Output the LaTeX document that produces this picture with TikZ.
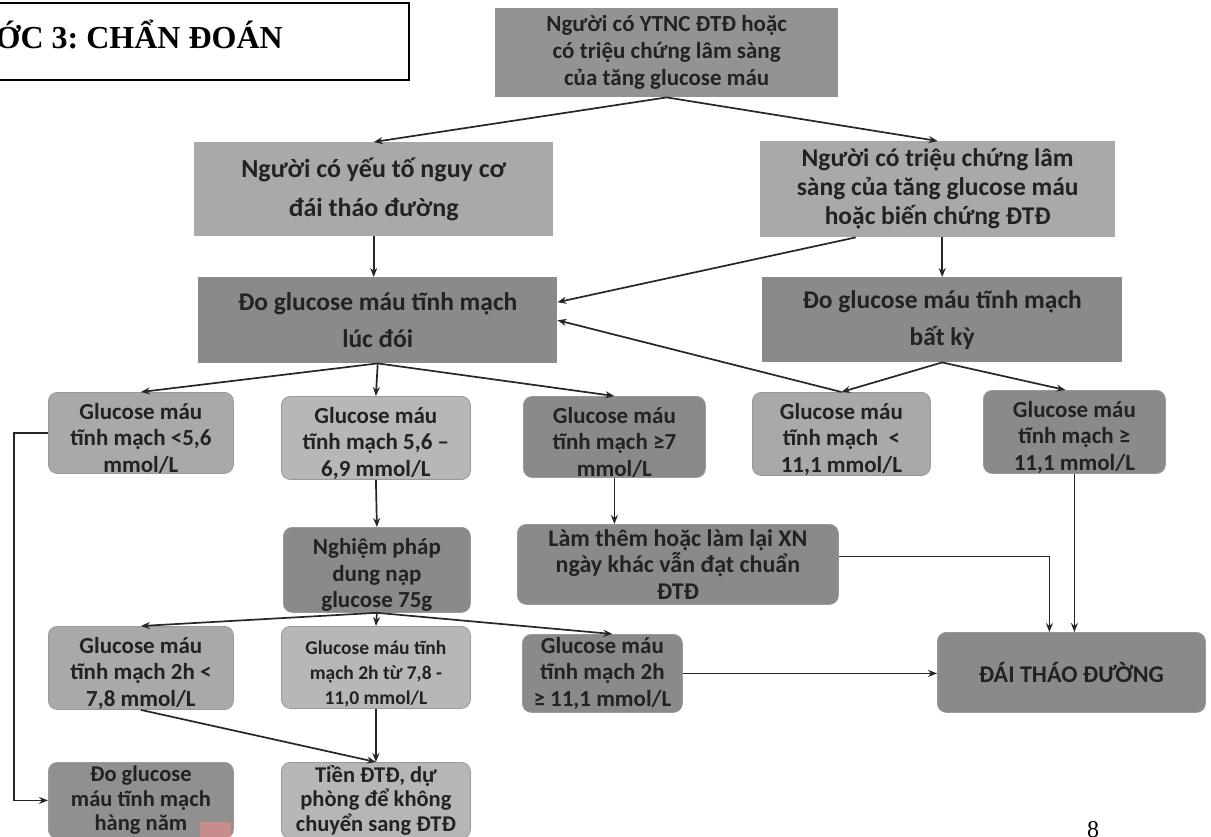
\documentclass[tikz,border=0pt]{standalone}
\usepackage{fontspec}
\setmainfont{Carlito}
\newfontfamily\titlefont{Liberation Serif}
\usetikzlibrary{arrows.meta}
\definecolor{gDark}{HTML}{8A8A8A}
\definecolor{gTop}{HTML}{939393}
\definecolor{gMid}{HTML}{A9A9A9}
\definecolor{gLight}{HTML}{B7B7B7}
\definecolor{gInk}{HTML}{222222}
% a strut that lowers the first line of a box a little
\newcommand\dropline{\rule{0pt}{27pt}}
\begin{document}
\frenchspacing
\begin{tikzpicture}[x=1pt,y=-1pt,
  arr/.style={draw=black!85, line width=1.7pt, -{Stealth[length=9pt,width=7pt]}},
  sqbox/.style={anchor=north west, inner sep=0pt, align=center, text=gInk,
                font=\bfseries\fontsize{26}{37}\selectfont},
  rbox/.style={sqbox, rounded corners=9pt, draw=black!40, line width=0.8pt,
               font=\bfseries\fontsize{23}{26.5}\selectfont},
]
\useasboundingbox (0,0) rectangle (1211,836);
\clip (0,0) rectangle (1211,836);

% heading
\draw[line width=1.5pt] (-10,3) rectangle (409,80);
\node[anchor=base east, inner sep=0pt, font=\titlefont\bfseries\fontsize{32}{36}\selectfont] (title) at (283,48) {BƯỚC 3: CHẨN ĐOÁN};

% top level
\node[sqbox, fill=gTop, minimum width=343pt, minimum height=89pt, font=\bfseries\fontsize{23}{27}\selectfont] (top) at (495,8)
  {Người có YTNC ĐTĐ hoặc\\có triệu chứng lâm sàng\\của tăng glucose máu};

% second level
\node[sqbox, fill=gMid, minimum width=359pt, minimum height=94pt, font=\bfseries\fontsize{26}{39}\selectfont] (r2l) at (194,142)
  {Người có yếu tố nguy cơ\\đái tháo đường};
\node[sqbox, fill=gMid, minimum width=355pt, minimum height=96pt, font=\bfseries\fontsize{25.5}{29}\selectfont] (r2r) at (760,141)
  {Người có triệu chứng lâm\\sàng của tăng glucose máu\\hoặc biến chứng ĐTĐ};

% measurement boxes
\node[sqbox, fill=gDark, minimum width=359pt, minimum height=86pt, font=\bfseries\fontsize{25.5}{37}\selectfont] (r3l) at (198,277)
  {Đo glucose máu tĩnh mạch\\lúc đói};
\node[sqbox, fill=gDark, minimum width=360pt, minimum height=85pt, font=\bfseries\fontsize{25.5}{37}\selectfont] (r3r) at (762,277)
  {Đo glucose máu tĩnh mạch\\bất kỳ};

% results of the first measurement
\node[rbox, fill=gMid, minimum width=185pt, minimum height=81pt] (r4a) at (48,392)
  {\dropline Glucose máu\\tĩnh mạch <5,6\\mmol/L};
\node[rbox, fill=gLight, minimum width=189pt, minimum height=80pt] (r4b) at (281,396)
  {\dropline Glucose máu\\tĩnh mạch 5,6 –\\6,9 mmol/L};
\node[rbox, fill=gDark, minimum width=182pt, minimum height=81pt] (r4c) at (523,396)
  {\dropline Glucose máu\\tĩnh mạch ≥7\\mmol/L};
\node[rbox, fill=gMid, minimum width=178pt, minimum height=78pt] (r4d) at (752,392)
  {\dropline Glucose máu\\tĩnh mạch \ <\\11,1 mmol/L};
\node[rbox, fill=gDark, minimum width=182pt, minimum height=77pt] (r4e) at (983,390)
  {\dropline Glucose máu\\tĩnh mạch ≥\\11,1 mmol/L};

% follow-up tests
\node[rbox, fill=gDark, minimum width=187pt, minimum height=85pt] (nghiem) at (283,527)
  {\dropline Nghiệm pháp\\dung nạp\\glucose 75g};
\node[rbox, fill=gDark, minimum width=321pt, minimum height=80pt, font=\bfseries\fontsize{24}{26.5}\selectfont] (lam) at (517,524)
  {Làm thêm hoặc làm lại XN\\ngày khác vẫn đạt chuẩn\\ĐTĐ};

% results of the tolerance test
\node[rbox, fill=gMid, minimum width=185pt, minimum height=82pt] (r5a) at (48,626)
  {\dropline Glucose máu\\tĩnh mạch 2h <\\7,8 mmol/L};
\node[rbox, fill=gLight, minimum width=189pt, minimum height=82pt, font=\bfseries\fontsize{19.5}{25}\selectfont] (r5b) at (281,626)
  {\dropline Glucose máu tĩnh\\mạch 2h từ 7,8 -\\11,0 mmol/L};
\node[rbox, fill=gDark, minimum width=160pt, minimum height=78pt] (r5c) at (522,634)
  {Glucose máu\\tĩnh mạch 2h\\≥ 11,1 mmol/L};
\node[rbox, fill=gDark, minimum width=268pt, minimum height=80pt, font=\bfseries\fontsize{24}{26}\selectfont] (dai) at (937,632)
  {ĐÁI THÁO ĐƯỜNG};

% outcomes
\node[rbox, fill=gDark!80!gMid, minimum width=185pt, minimum height=76pt, font=\bfseries\fontsize{22.5}{24.5}\selectfont] (r6a) at (48,762)
  {Đo glucose\\máu tĩnh mạch\\hàng năm};
\fill[red!45, opacity=0.5] (200,822) rectangle (231,840);
\node[rbox, fill=gLight!90!gMid, minimum width=189pt, minimum height=76pt, font=\bfseries\fontsize{22.5}{24.5}\selectfont] (r6b) at (281,762)
  {Tiền ĐTĐ, dự\\phòng để không\\chuyển sang ĐTĐ};

% page number
\node[anchor=north, inner sep=0pt, font=\titlefont\fontsize{24}{26}\selectfont] (pg) at (1093,821) {8};

% connectors
\draw[arr] (top.south) -- (r2l.north);
\draw[arr] (top.south) -- (r2r.north);
\draw[arr] (r2l.south) -- (r2l.south |- r3l.north);
\draw[arr] ([xshift=-82pt]r2r.south) -- ([yshift=18pt]r3l.east);
\draw[arr] (r2r.south -| r3r.north) -- (r3r.north);
\draw[arr] (r4d.north) -- (r3l.east);
\draw[arr] (r3r.south) -- (r4d.north);
\draw[arr] (r3r.south) -- ([xshift=-9pt]r4e.north);
\draw[arr] (r3l.south) -- (r4a.north);
\draw[arr] (r3l.south) -- (r4b.north);
\draw[arr] (r3l.south) -- (r4c.north);
\draw[arr] (r4b.south) -- (nghiem.north);
\draw[arr] (r4c.south) -- (r4c.south |- lam.north);
\draw[arr] (r4e.south) -- (r4e.south |- dai.north);
\draw[arr] ([yshift=8pt]lam.east) -| ([xshift=-22pt]dai.north);
\draw[arr] (nghiem.south) -- (r5a.north);
\draw[arr] (nghiem.south) -- (r5b.north);
\draw[arr] (nghiem.south) -- ([xshift=10pt]r5c.north);
\draw[arr] (r5c.east) -- (r5c.east -| dai.west);
\draw[arr] (r5a.south) -- (r6b.north);
\draw[arr] (r5b.south) -- (r6b.north);
\draw[arr] (r4a.west) -- ++(-34,0) |- (r6a.west);
\end{tikzpicture}
\end{document}
